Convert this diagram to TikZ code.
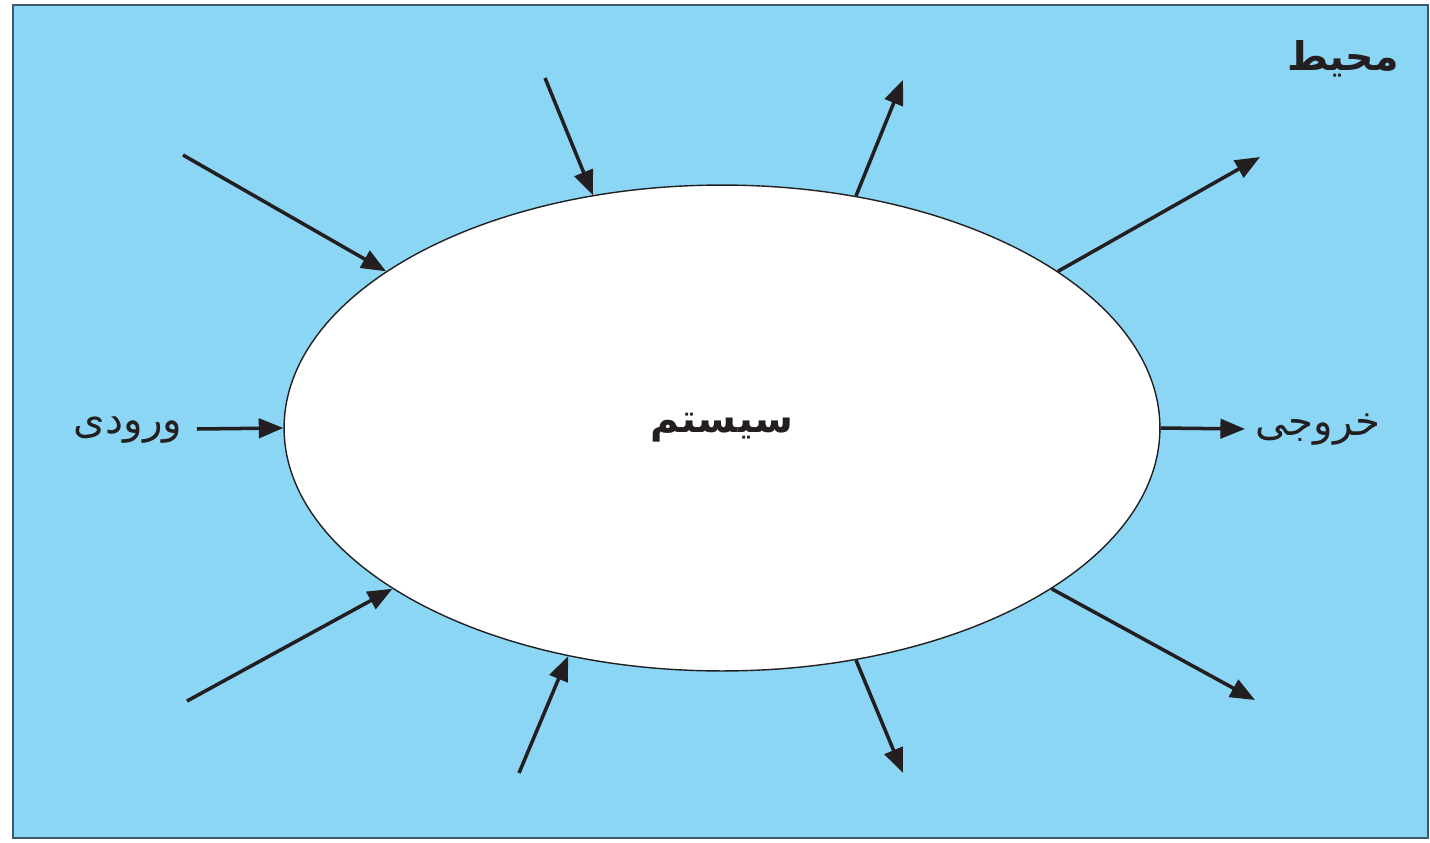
\documentclass[tikz,border=0pt]{standalone}
\usepackage{fontspec}
\newfontfamily\arabicfont[Script=Arabic]{DejaVu Sans}
\TeXXeTstate=1
\usetikzlibrary{shapes.geometric,arrows.meta}
\definecolor{envblue}{RGB}{140,214,245}
\definecolor{inkblack}{RGB}{35,31,32}
\definecolor{frameblue}{RGB}{60,90,110}
\tikzset{
	flow/.style={line width=2pt,draw=inkblack,-{Triangle[length=14pt,width=11pt]}},
	farsitext/.style={font=\arabicfont\fontsize{23}{28}\selectfont,text=inkblack,inner sep=0pt},
	farsibold/.style={font=\arabicfont\bfseries\fontsize{22.5}{28}\selectfont,text=inkblack,inner sep=0pt}
}
\begin{document}
\begin{tikzpicture}[x=0.02cm,y=-0.02cm]
			\useasboundingbox (0,0) rectangle (1430,842);
			\draw[frameblue,line width=1.2pt,fill=envblue] (13,5) rectangle (1428,838);
			
			\node[ellipse,draw=inkblack,line width=0.8pt,fill=white,minimum width=17.52cm,minimum height=9.72cm,inner sep=0pt] (sys) at (722,428) {};
			\node[farsibold] (sysname) at (722,428) {\beginR سیستم\endR};
			\node[farsibold] (env) at (1343,59) {\beginR محیط\endR};
			\node[farsitext] (inname) at (128,430) {\beginR ورودی\endR};
			\node[farsitext] (outname) at (1318,430) {\beginR خروجی\endR};
			
			\coordinate (in1) at (183,155);
			\coordinate (in2) at (545,78);
			\coordinate (in3) at (197,429);
			\coordinate (in4) at (187,701);
			\coordinate (in5) at (519,773);
			\coordinate (out1) at (903,80);
			\coordinate (out2) at (1260,157);
			\coordinate (out3) at (1245,429);
			\coordinate (out4) at (1255,700);
			\coordinate (out5) at (903,773);
			
			\draw[flow] (in1) -- (sys.155);
			\draw[flow] (in2) -- (sys.119);
			\draw[flow] (in3) -- (sys.180);
			\draw[flow] (in4) -- (sys.206);
			\draw[flow] (in5) -- (sys.236);
			
			\draw[flow] (sys.60) -- (out1);
			\draw[flow] (sys.25) -- (out2);
			\draw[flow] (sys.0) -- (out3);
			\draw[flow] (sys.334) -- (out4);
			\draw[flow] (sys.300) -- (out5);
	
		\end{tikzpicture}
\end{document}
